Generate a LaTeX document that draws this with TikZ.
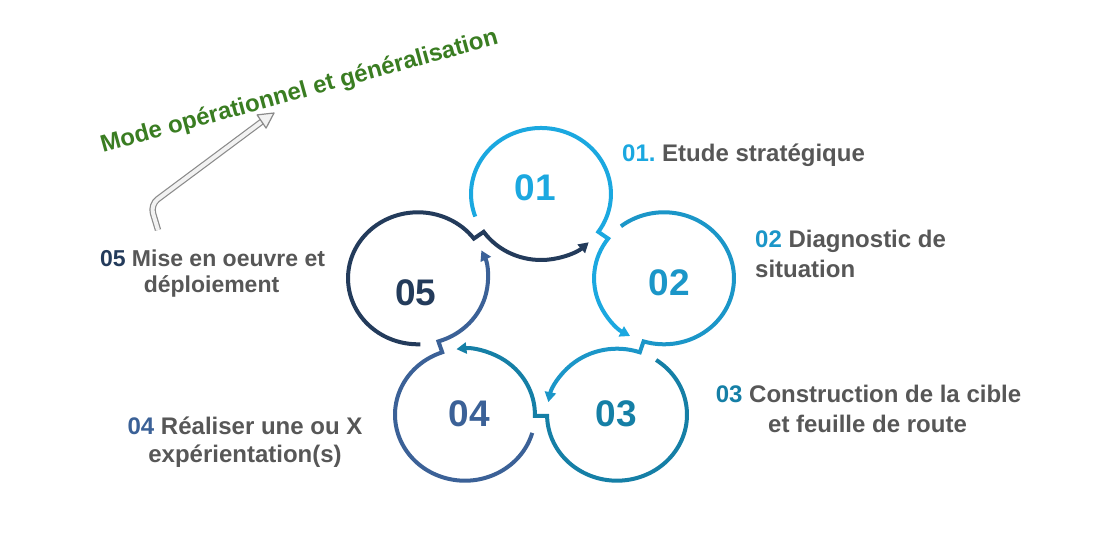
\documentclass[tikz,border=0pt]{standalone}
\usepackage{fontspec}
\setmainfont{Liberation Sans}
\usetikzlibrary{arrows.meta}
\definecolor{cA}{HTML}{1BA8E0}
\definecolor{cB}{HTML}{1B96C8}
\definecolor{cC}{HTML}{157FA6}
\definecolor{cD}{HTML}{3B6197}
\definecolor{cE}{HTML}{233B5B}
\definecolor{txtgray}{HTML}{575757}
\definecolor{titlegreen}{HTML}{3A7D22}
\definecolor{arrgray}{HTML}{8A8A8A}
\definecolor{arrfill}{HTML}{F2F2F2}
\frenchspacing
\begin{document}
\begin{tikzpicture}[x=1pt,y=1pt,
  ringarrow/.style={line width=4pt,-{Triangle[length=10pt,width=11pt]}},
  num/.style={font=\fontsize{37}{37}\selectfont\bfseries, inner sep=0pt},
  lbl/.style={font=\fontsize{24}{28}\selectfont\bfseries, text=txtgray, inner sep=0pt},
  lblsmall/.style={font=\fontsize{23}{27}\selectfont\bfseries, text=txtgray, inner sep=0pt},
]
\useasboundingbox (0,0) rectangle (1100,533);
\fill[white] (0,0) rectangle (1100,533);

\begin{scope}[shift={(541,217)}, xscale=1.06]
  \coordinate (c1) at (90:122);
  \coordinate (c2) at (18:122);
  \coordinate (c3) at (-54:122);
  \coordinate (c4) at (-126:122);
  \coordinate (c5) at (162:122);
  \path (c2) ++(143:66) coordinate (q12);
  \path (c3) ++(71:66) coordinate (q23);
  \path (c4) ++(-1:66) coordinate (q34);
  \path (c5) ++(-73:66) coordinate (q45);
  \path (c1) ++(-145:66) coordinate (q51);
  \draw[ringarrow, cA] (c1) ++(200:66) arc[start angle=200, end angle=-35, radius=66]
     -- (q12) arc[start angle=143, end angle=241, radius=66];
  \draw[ringarrow, cB] (c2) ++(128:66) arc[start angle=128, end angle=-107, radius=66]
     -- (q23) arc[start angle=71, end angle=169, radius=66];
  \draw[ringarrow, cC] (c3) ++(56:66) arc[start angle=56, end angle=-179, radius=66]
     -- (q34) arc[start angle=-1, end angle=97, radius=66];
  \draw[ringarrow, cD] (c4) ++(-16:66) arc[start angle=-16, end angle=-251, radius=66]
     -- (q45) arc[start angle=-73, end angle=25, radius=66];
  \draw[ringarrow, cE] (c5) ++(-88:66) arc[start angle=-88, end angle=-323, radius=66]
     -- (q51) arc[start angle=-145, end angle=-47, radius=66];
\end{scope}

% numbers
\node[num, text=cA] (n1) at (535,345) {01};
\node[num, text=cB] (n2) at (669,250.5) {02};
\node[num, text=cC] (n3) at (616,119.5) {03};
\node[num, text=cD] (n4) at (469,119.5) {04};
\node[num, text=cE] (n5) at (416,240.5) {05};

% labels
\node[lbl, anchor=base west] (l1) at (622,371) {{\color{cA}01.} Etude stratégique};
\node[lbl, anchor=base west] (l2a) at (755,285) {{\color{cB}02} Diagnostic de};
\node[lbl, anchor=base west] (l2b) at (755,255) {situation};
\node[lbl, anchor=base] (l3a) at (868.5,130) {{\color{cC}03} Construction de la cible};
\node[lbl, anchor=base] (l3b) at (867.5,100) {et feuille de route};
\node[lbl, anchor=base] (l4a) at (245,99) {{\color{cD}04} Réaliser une ou X};
\node[lbl, anchor=base] (l4b) at (245,71) {expérientation(s)};
\node[lblsmall, anchor=base] (l5a) at (212.5,266) {{\color{cE}05} Mise en oeuvre et};
\node[lblsmall, anchor=base] (l5b) at (211.5,240) {déploiement};

% title
\node[font=\fontsize{24}{28}\selectfont\bfseries, text=titlegreen, inner sep=0pt,
      anchor=base west, rotate=15.4] (title) at (103,380) {Mode opérationnel et généralisation};

% gray hooked arrow
\coordinate (ga) at (158,303);
\coordinate (gk) at (150.4,328.4);
\coordinate (gb) at (262,411.5);
\coordinate (gt) at (274,420);
\coordinate (gh1) at (266.1,404.9);
\coordinate (gh2) at (257.1,418.1);
\draw[arrgray, double=arrfill, double distance=4pt, line width=1.2pt, rounded corners=9pt] (ga) -- (gk) -- (gb);
\draw[arrgray, fill=arrfill, line width=1.2pt, line join=round] (gh1) -- (gt) -- (gh2) -- cycle;
\end{tikzpicture}
\end{document}
